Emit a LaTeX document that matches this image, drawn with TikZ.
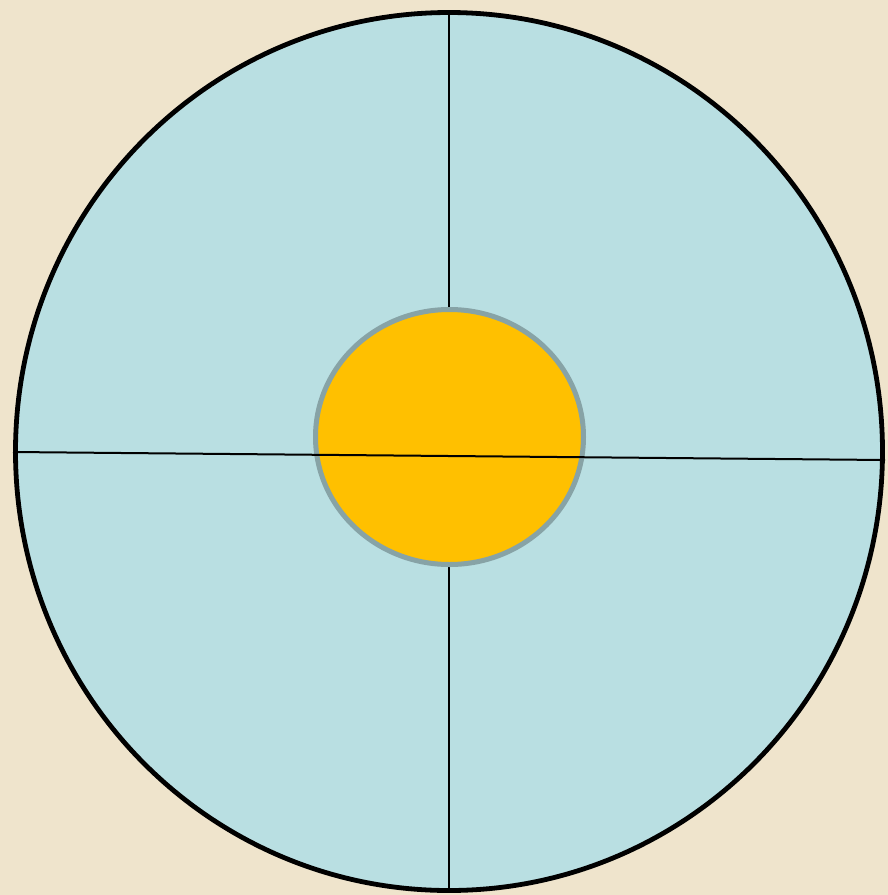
\documentclass[tikz,border=0pt]{standalone}
\usepackage{xcolor}
\usetikzlibrary{shapes.geometric}
\definecolor{burlap}{HTML}{EFE4CC}
\definecolor{sky}{HTML}{B9DFE2}
\definecolor{sun}{HTML}{FFC000}
\definecolor{rim}{HTML}{87A3A6}

\begin{document}
\begin{tikzpicture}[x=0.5pt, y=-0.5pt]
  \fill[burlap] (0,0) rectangle (888,895);
  \useasboundingbox (0,0) rectangle (888,895);
  \node[ellipse, draw=black, line width=2.4pt, fill=sky, inner sep=0pt, minimum width=433.5pt, minimum height=439pt] (disc) at (449,451.5) {};
  \draw[line width=1pt, black] (disc.north) -- (disc.south);
  \node[ellipse, draw=rim, line width=2.5pt, fill=sun, inner sep=0pt, minimum width=134pt, minimum height=127.5pt] (hub) at (449.5,437) {};
  \coordinate (west) at (13,452);
  \coordinate (east) at (885,460);
  \draw[line width=1pt, black] (west) -- (east);
\end{tikzpicture}
\end{document}
